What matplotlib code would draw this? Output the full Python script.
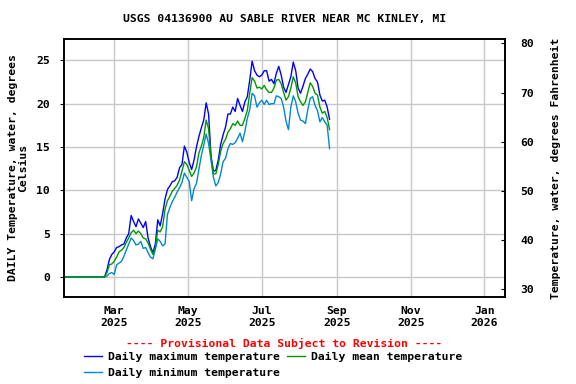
import pandas as pd
import matplotlib
matplotlib.use('Agg')
import matplotlib.pyplot as plt
import matplotlib.dates as mdates

# Settings
plt.rcParams['font.family'] = 'DejaVu Sans Mono'
plt.rcParams['font.weight'] = 'bold'
plt.rcParams['font.size'] = 8.2

# Data: days after 2025-03-01 (flat zero first, then every second day)
day_offset = [-42, -8] + list(range(-6, 179, 2))

t_max = [0.0, 0.0,
         0.8, 2.0, 2.6, 2.9, 3.4, 3.5, 3.7, 3.8, 4.5, 5.0,
         7.1, 6.4, 5.8, 6.7, 6.2, 5.7, 6.4, 4.5, 3.5, 2.8,
         3.8, 6.6, 5.9, 7.3, 9.0, 10.1, 10.5, 11.0, 11.1, 11.5,
         12.6, 13.0, 15.1, 14.4, 13.2, 12.4, 13.5, 15.0, 16.2, 17.2,
         18.1, 20.1, 18.8, 14.0, 12.2, 12.3, 13.5, 15.3, 16.4, 17.3,
         18.8, 18.8, 19.6, 19.1, 20.6, 19.8, 19.1, 20.2, 20.8, 22.7,
         24.9, 23.8, 23.3, 23.1, 23.3, 23.8, 23.8, 22.6, 22.8, 22.3,
         23.5, 24.3, 23.3, 21.9, 21.3, 22.2, 23.1, 24.8, 23.8, 21.8,
         21.2, 22.0, 22.9, 23.4, 24.0, 23.7, 22.9, 22.5, 21.0, 20.3,
         20.4, 19.6, 18.2]

t_mean = [0.0, 0.0,
          0.5, 1.4, 1.5, 1.8, 2.3, 2.9, 3.1, 3.4, 4.0, 4.5,
          5.1, 5.4, 5.0, 5.3, 5.0, 4.5, 4.4, 3.9, 3.2, 2.6,
          3.4, 5.4, 5.2, 5.8, 7.8, 8.8, 9.3, 9.9, 10.2, 10.6,
          11.2, 12.2, 13.3, 13.0, 12.3, 11.6, 12.0, 12.7, 14.3, 15.1,
          16.1, 18.1, 17.1, 13.8, 11.9, 11.9, 13.0, 14.5, 15.4, 15.9,
          16.7, 17.1, 17.7, 17.5, 18.0, 17.5, 17.5, 18.3, 19.2, 21.2,
          23.0, 22.6, 21.8, 21.9, 21.7, 22.1, 21.6, 21.3, 21.3, 21.8,
          22.7, 22.8, 22.3, 21.3, 20.4, 20.8, 21.8, 23.1, 22.4, 20.8,
          20.2, 19.8, 20.2, 21.3, 22.4, 22.0, 21.2, 21.0, 19.6, 18.9,
          19.1, 18.4, 17.0]

t_min = [0.0, 0.0,
         0.1, 0.4, 0.5, 0.3, 1.4, 1.6, 1.8, 2.4, 3.1, 3.8,
         4.5, 4.2, 3.7, 3.8, 4.1, 3.3, 3.4, 2.8, 2.3, 2.1,
         3.2, 4.4, 4.1, 3.6, 3.8, 7.2, 8.0, 8.7, 9.2, 9.8,
         10.3, 10.9, 12.0, 11.5, 11.0, 8.8, 10.2, 10.8, 12.4, 14.0,
         15.2, 16.5, 15.4, 13.5, 11.5, 10.5, 10.9, 11.9, 13.3, 13.7,
         14.8, 15.4, 15.3, 15.5, 16.0, 16.6, 15.6, 16.8, 18.3, 19.3,
         21.2, 20.9, 19.6, 20.1, 20.4, 19.9, 20.4, 19.9, 20.0, 20.0,
         20.9, 20.8, 20.6, 19.6, 18.0, 17.0, 19.6, 20.9, 20.2, 18.9,
         18.1, 18.0, 17.7, 19.3, 20.6, 20.8, 19.8, 19.2, 17.9, 18.4,
         17.9, 17.5, 14.8]

dates = pd.Timestamp('2025-03-01') + pd.to_timedelta(day_offset, unit='D')

# Figure
fig = plt.figure(figsize=(5.76, 3.84), dpi=100)
ax = fig.add_axes([64 / 576, 1 - 297 / 384, (505 - 64) / 576, (297 - 39) / 384])

l_max, = ax.plot(dates, t_max, color='#0000ff', lw=1, label='Daily maximum temperature')
l_min, = ax.plot(dates, t_min, color='#0088d0', lw=1, label='Daily minimum temperature')
l_mean, = ax.plot(dates, t_mean, color='#009a00', lw=1, label='Daily mean temperature')

ax.set_xlim(pd.Timestamp('2025-01-18 12:00'), pd.Timestamp('2026-01-18'))
ax.set_ylim(-2.31, 27.46)
ax.set_yticks([0, 5, 10, 15, 20, 25])
ax.xaxis.set_major_locator(mdates.MonthLocator(bymonth=[1, 3, 5, 7, 9, 11]))
ax.xaxis.set_major_formatter(mdates.DateFormatter('%b\n%Y'))
ax.grid(True, color='#c8c8c8', lw=1)
ax.tick_params(axis='x', length=0, pad=6.5)
ax.tick_params(axis='y', length=3, pad=7)
for s in ax.spines.values():
    s.set_linewidth(1.2)

# Fahrenheit axis on the right
ax2 = ax.twinx()
ax2.set_ylim(28.4, 80.9)
ax2.set_yticks([30, 40, 50, 60, 70, 80])
ax2.tick_params(axis='y', direction='in', length=3, pad=11)
for s in ax2.spines.values():
    s.set_linewidth(1.2)

# Texts
fig.text(284.5 / 576, 1 - 19 / 384, 'USGS 04136900 AU SABLE RIVER NEAR MC KINLEY, MI',
         ha='center', va='center')
fig.text(18 / 576, 1 - 168 / 384, 'DAILY Temperature, water, degrees\nCelsius',
         rotation=90, ha='center', va='center', multialignment='center', linespacing=1.0)
fig.text(556 / 576, 1 - 168 / 384, 'Temperature, water, degrees Fahrenheit',
         rotation=90, ha='center', va='center')
fig.text(284.5 / 576, 1 - 343 / 384, '---- Provisional Data Subject to Revision ----',
         color='red', ha='center', va='center')

fig.legend(handles=[l_max, l_min, l_mean], ncol=2, loc='upper left',
           bbox_to_anchor=(84 / 576, 1 - 352 / 384), frameon=False,
           handlelength=1.6, handletextpad=0.5, columnspacing=0.6,
           labelspacing=0.5, borderpad=0, borderaxespad=0)

plt.savefig('out.png', dpi=100)
